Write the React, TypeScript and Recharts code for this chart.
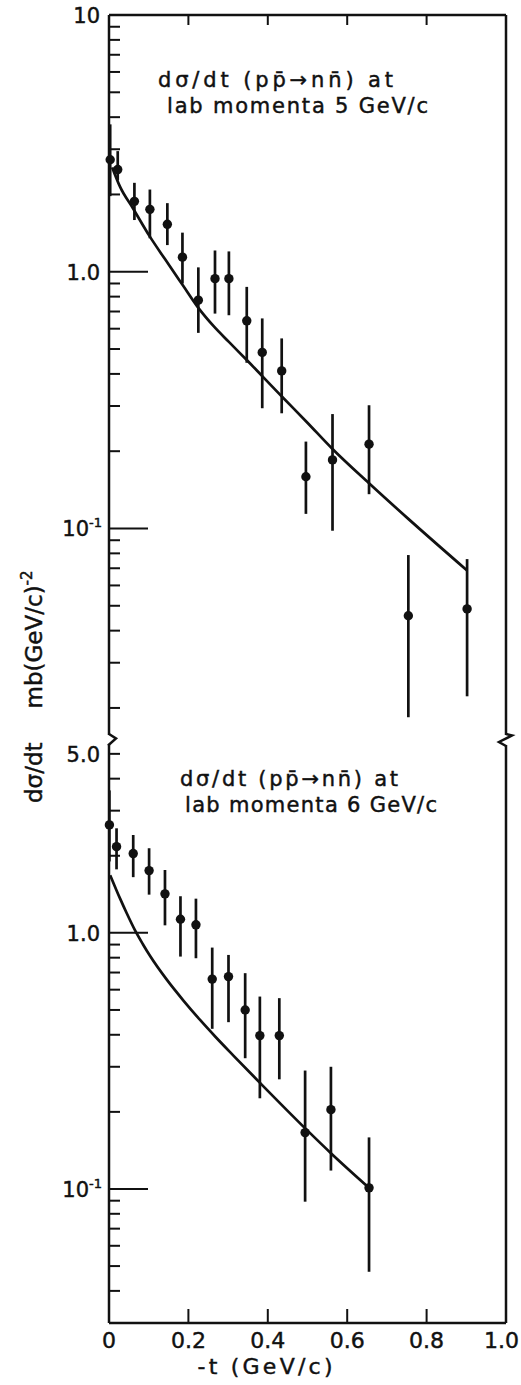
import React from "react";
import { ComposedChart, Line, Scatter, ErrorBar, XAxis, YAxis } from "recharts";

// ---- 5 GeV/c measurements (t = -t in GeV/c, v = dσ/dt in mb/(GeV/c)^2)
const T5 = [0.003, 0.022, 0.064, 0.103, 0.147, 0.185, 0.225, 0.267, 0.302, 0.347, 0.386, 0.435, 0.496, 0.563, 0.655, 0.754, 0.902];
const V5 = [2.73, 2.5, 1.88, 1.75, 1.53, 1.14, 0.775, 0.94, 0.94, 0.644, 0.485, 0.411, 0.159, 0.185, 0.213, 0.0457, 0.0486];
const HI5 = [3.75, 2.95, 2.22, 2.09, 1.85, 1.42, 1.04, 1.21, 1.2, 0.873, 0.658, 0.55, 0.218, 0.279, 0.302, 0.0788, 0.076];
const LO5 = [1.97, 2.27, 1.59, 1.35, 1.27, 0.9, 0.578, 0.687, 0.677, 0.442, 0.294, 0.281, 0.114, 0.098, 0.136, 0.0184, 0.0222];
// fitted curve, 5 GeV/c
const FIT_T5 = [0.008, 0.028, 0.061, 0.103, 0.141, 0.186, 0.226, 0.263, 0.302, 0.347, 0.436, 0.498, 0.563, 0.655, 0.754, 0.902];
const FIT_V5 = [2.55, 2.14, 1.76, 1.37, 1.12, 0.886, 0.72, 0.615, 0.533, 0.453, 0.326, 0.26, 0.204, 0.15, 0.109, 0.0686];

// ---- 6 GeV/c measurements
const T6 = [0.001, 0.019, 0.061, 0.101, 0.141, 0.18, 0.219, 0.26, 0.301, 0.343, 0.38, 0.429, 0.494, 0.559, 0.655];
const V6 = [2.64, 2.17, 2.04, 1.75, 1.42, 1.13, 1.075, 0.66, 0.675, 0.5, 0.397, 0.397, 0.166, 0.204, 0.101];
const HI6 = [3.6, 2.56, 2.41, 2.14, 1.76, 1.39, 1.36, 0.876, 0.82, 0.696, 0.564, 0.556, 0.29, 0.3, 0.159];
const LO6 = [1.9, 1.77, 1.65, 1.41, 1.07, 0.808, 0.796, 0.422, 0.448, 0.324, 0.226, 0.268, 0.0892, 0.118, 0.0475];
// fitted curve, 6 GeV/c
const FIT_T6 = [0.003, 0.028, 0.045, 0.066, 0.085, 0.104, 0.146, 0.188, 0.23, 0.268, 0.314, 0.381, 0.495, 0.561, 0.655];
const FIT_V6 = [1.68, 1.36, 1.19, 1.02, 0.905, 0.81, 0.655, 0.543, 0.456, 0.393, 0.331, 0.259, 0.172, 0.137, 0.101];

// ---- axes
const X_TICKS = [0, 0.2, 0.4, 0.6, 0.8, 1.0];
const X_LABELS = ["0", "0.2", "0.4", "0.6", "0.8", "1.0"];

const TOP_TICKS = [10, 9, 8, 7, 6, 5, 4, 3, 2, 1, 0.9, 0.8, 0.7, 0.6, 0.5, 0.4, 0.3, 0.2, 0.1, 0.09, 0.08, 0.07, 0.06, 0.05, 0.04, 0.03, 0.02];
const TOP_LABELED = [10, 1, 0.1];
const TOP_LABEL_TEXT = ["10", "1.0", "10^-1"];
const TOP_DOMAIN = [0.01569, 10];

const BOT_TICKS = [5, 4, 3, 2, 1, 0.9, 0.8, 0.7, 0.6, 0.5, 0.4, 0.3, 0.2, 0.1, 0.09, 0.08, 0.07, 0.06, 0.05, 0.04];
const BOT_LABELED = [5, 1, 0.1];
const BOT_LABEL_TEXT = ["5.0", "1.0", "10^-1"];
const BOT_DOMAIN = [0.02997, 5.414];

const MAJOR = [1, 0.1];

const FONT = "'DejaVu Sans', sans-serif";
const INK = "#111";
// scanned lettering is heavier than the regular face
const heavy = { fontFamily: FONT, fill: INK, stroke: INK, strokeWidth: 0.45 } as const;

function tickLabel(text: string, x: number, y: number) {
  if (text === "10^-1") {
    return (
      <text x={x + 2} y={y} textAnchor="end" fontSize={21} {...heavy}>
        10<tspan dy={-9} fontSize={13}>-1</tspan>
      </text>
    );
  }
  return (
    <text x={x} y={y} textAnchor="end" fontSize={21} {...heavy}>
      {text}
    </text>
  );
}

function yTick(side: "left" | "right", labeled: number[], texts: string[]) {
  return (props: any) => {
    const { x, y, payload } = props;
    const v = payload.value as number;
    const len = MAJOR.includes(v) ? 39 : 11;
    const dir = side === "left" ? 1 : -1;
    const i = labeled.indexOf(v);
    return (
      <g>
        <line x1={x} x2={x + dir * len} y1={y} y2={y} stroke={INK} strokeWidth={2} />
        {side === "left" && i >= 0 ? tickLabel(texts[i], x - 9, y + 8) : null}
      </g>
    );
  };
}

const topXTick = (props: any) => {
  const { x, y, payload } = props;
  if (payload.value === 0 || payload.value === 1) return <g />;
  return <line x1={x} x2={x} y1={y} y2={y + 10} stroke={INK} strokeWidth={2} />;
};

const bottomXTick = (props: any) => {
  const { x, y, payload, index } = props;
  const inner = payload.value !== 0 && payload.value !== 1;
  const last = index === X_LABELS.length - 1;
  return (
    <g>
      {inner ? <line x1={x} x2={x} y1={y} y2={y - 14} stroke={INK} strokeWidth={2} /> : null}
      <text x={last ? x + 13 : x} y={y + 25} textAnchor={last ? "end" : "middle"} fontSize={22} {...heavy}>
        {X_LABELS[index]}
      </text>
    </g>
  );
};

const dot = (p: any) => <circle cx={p.cx} cy={p.cy} r={4.7} fill={INK} />;

const axisLine = { stroke: INK, strokeWidth: 2.5 };

type PanelProps = {
  height: number;
  marginTop: number;
  pts: { t: number; v: number; err: number[] }[];
  fit: { t: number; v: number }[];
  ticks: number[];
  domain: number[];
  labeled: number[];
  texts: string[];
  top: boolean;
};

function Panel({ height, marginTop, pts, fit, ticks, domain, labeled, texts, top }: PanelProps) {
  return (
    <ComposedChart width={521} height={height} margin={{ top: marginTop, right: 0, bottom: 0, left: 0 }}>
      <XAxis
        dataKey="t"
        type="number"
        domain={[0, 1]}
        ticks={X_TICKS}
        interval={0}
        orientation={top ? "top" : "bottom"}
        height={top ? 15 : 62}
        tickSize={0}
        tickMargin={0}
        axisLine={axisLine}
        tickLine={false}
        tick={top ? topXTick : bottomXTick}
      />
      <YAxis
        yAxisId="l"
        type="number"
        scale="log"
        domain={domain}
        ticks={ticks}
        interval={0}
        width={109}
        tickSize={0}
        tickMargin={0}
        axisLine={axisLine}
        tickLine={false}
        tick={yTick("left", labeled, texts)}
      />
      <YAxis
        yAxisId="r"
        orientation="right"
        type="number"
        scale="log"
        domain={domain}
        ticks={ticks}
        interval={0}
        width={15}
        tickSize={0}
        tickMargin={0}
        axisLine={axisLine}
        tickLine={false}
        tick={yTick("right", labeled, texts)}
      />
      <Line
        yAxisId="l"
        data={fit}
        dataKey="v"
        type="monotone"
        stroke={INK}
        strokeWidth={2.7}
        dot={false}
        isAnimationActive={false}
      />
      <Scatter yAxisId="l" data={pts} dataKey="v" shape={dot} isAnimationActive={false}>
        <ErrorBar dataKey="err" direction="y" width={0} stroke={INK} strokeWidth={2.7} isAnimationActive={false} />
      </Scatter>
    </ComposedChart>
  );
}

const pts5 = T5.map((t, i) => ({ t, v: V5[i], err: [V5[i] - LO5[i], HI5[i] - V5[i]] }));
const pts6 = T6.map((t, i) => ({ t, v: V6[i], err: [V6[i] - LO6[i], HI6[i] - V6[i]] }));
const fit5 = FIT_T5.map((t, i) => ({ t, v: FIT_V5[i] }));
const fit6 = FIT_T6.map((t, i) => ({ t, v: FIT_V6[i] }));

export default function App() {
  return (
    <div style={{ position: "absolute", left: 0, top: 0, width: 521, height: 1385, background: "#fff" }}>
      <div style={{ position: "absolute", left: 0, top: 0 }}>
        <Panel height={735} marginTop={0} pts={pts5} fit={fit5} ticks={TOP_TICKS} domain={TOP_DOMAIN}
          labeled={TOP_LABELED} texts={TOP_LABEL_TEXT} top />
      </div>
      <div style={{ position: "absolute", left: 0, top: 733 }}>
        <Panel height={652} marginTop={12} pts={pts6} fit={fit6} ticks={BOT_TICKS} domain={BOT_DOMAIN}
          labeled={BOT_LABELED} texts={BOT_LABEL_TEXT} top={false} />
      </div>
      <svg width={521} height={1385} style={{ position: "absolute", left: 0, top: 0, pointerEvents: "none" }}>
        {/* axis breaks */}
        <path d="M109,734 L116,738.5 L108,745.5" fill="none" stroke={INK} strokeWidth={2.5} />
        <path d="M506,734 L512,735.5 L499,742 L506,746" fill="none" stroke={INK} strokeWidth={2.5} />

        <text x={158} y={87} fontSize={21} textLength={235} lengthAdjust="spacing" {...heavy}>
          dσ/dt (pp̄→nn̄) at
        </text>
        <text x={167} y={113} fontSize={21} textLength={261} lengthAdjust="spacing" {...heavy}>
          lab momenta 5 GeV/c
        </text>
        <text x={180} y={786} fontSize={21} textLength={218} lengthAdjust="spacing" {...heavy}>
          dσ/dt (pp̄→nn̄) at
        </text>
        <text x={185} y={812} fontSize={21} textLength={252} lengthAdjust="spacing" {...heavy}>
          lab momenta 6 GeV/c
        </text>

        <text transform="translate(42,803) rotate(-90)" fontSize={23} {...heavy}>
          dσ/dt<tspan dx={34}>mb(GeV/c)</tspan>
          <tspan dy={-10} fontSize={15}>-2</tspan>
        </text>

        <text x={265} y={1374} fontSize={22} textAnchor="middle" textLength={135} lengthAdjust="spacing" {...heavy}>
          -t  (GeV/c)
        </text>
      </svg>
    </div>
  );
}
